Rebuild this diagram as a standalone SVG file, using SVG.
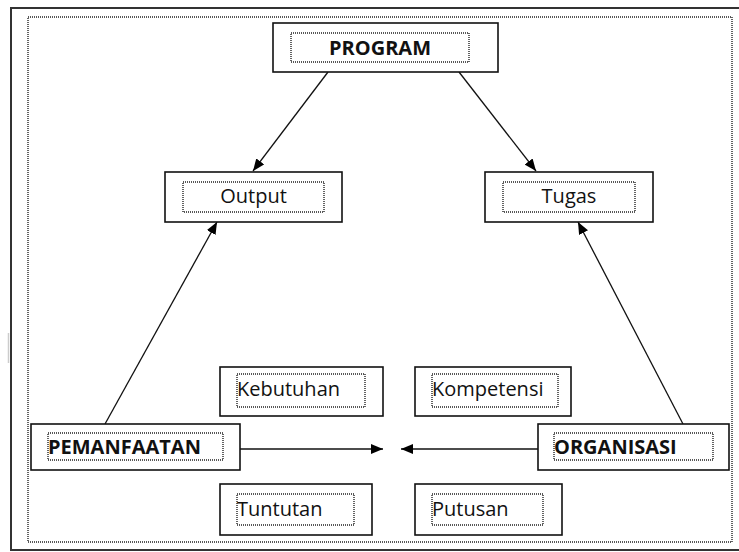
<svg xmlns="http://www.w3.org/2000/svg" width="739" height="552" viewBox="0 0 739 552">
<defs>
<style>
.frame{fill:none;stroke:#333;stroke-width:2}
.dot{fill:none;stroke:#222;stroke-width:1.4;stroke-dasharray:1 1}
.box{fill:#fff;stroke:#111;stroke-width:1.6}
.t{font-family:"Open Sans","Noto Sans","Liberation Sans",sans-serif;font-size:20px;fill:#111}
.b{font-weight:bold}
.c{text-anchor:middle}
.con{stroke:#111;stroke-width:1.3;fill:none}
</style>
<marker id="ah" viewBox="0 0 12 10" refX="12" refY="5" markerWidth="12" markerHeight="10" markerUnits="userSpaceOnUse" orient="auto">
<path d="M0,0 L12,5 L0,10 z" fill="#000"/>
</marker>
</defs>
<rect width="739" height="552" fill="#fff"/>
<rect class="frame" x="11" y="8" width="740" height="542"/>
<line x1="8.5" y1="333" x2="8.5" y2="363" stroke="#ccc" stroke-width="1.5"/>
<rect class="dot" x="28" y="17" width="704" height="525"/>
<g id="connectors">
<line class="con" x1="328" y1="72" x2="253" y2="171" marker-end="url(#ah)"/>
<line class="con" x1="459" y1="72" x2="536" y2="171" marker-end="url(#ah)"/>
<line class="con" x1="105" y1="424" x2="217" y2="222" marker-end="url(#ah)"/>
<line class="con" x1="683" y1="424" x2="578" y2="222" marker-end="url(#ah)"/>
<line class="con" x1="240" y1="449" x2="383" y2="449" marker-end="url(#ah)"/>
<line class="con" x1="538" y1="449" x2="401" y2="449" marker-end="url(#ah)"/>
</g>
<g id="program">
<rect class="box" x="273" y="23" width="225" height="49"/>
<rect class="dot" x="291" y="33" width="178" height="29"/>
<text class="t b c" x="380" y="55">PROGRAM</text>
</g>
<g id="output">
<rect class="box" x="165" y="172" width="177" height="50"/>
<rect class="dot" x="183" y="182" width="141" height="30"/>
<text class="t c" x="253.5" y="203">Output</text>
</g>
<g id="tugas">
<rect class="box" x="485" y="172" width="168" height="50"/>
<rect class="dot" x="503" y="182" width="132" height="30"/>
<text class="t c" x="569" y="203">Tugas</text>
</g>
<g id="kebutuhan">
<rect class="box" x="220" y="367" width="163" height="49"/>
<rect class="dot" x="237" y="374" width="128" height="33"/>
<text class="t" x="237" y="396">Kebutuhan</text>
</g>
<g id="kompetensi">
<rect class="box" x="415" y="367" width="156" height="49"/>
<rect class="dot" x="432" y="374" width="126" height="33"/>
<text class="t" x="432" y="396">Kompetensi</text>
</g>
<g id="pemanfaatan">
<rect class="box" x="31" y="424" width="209" height="46"/>
<rect class="dot" x="48" y="433" width="175" height="27"/>
<text class="t b" x="48" y="454">PEMANFAATAN</text>
</g>
<g id="organisasi">
<rect class="box" x="538" y="424" width="191" height="46"/>
<rect class="dot" x="554" y="433" width="159" height="27"/>
<text class="t b" x="554" y="454">ORGANISASI</text>
</g>
<g id="tuntutan">
<rect class="box" x="220" y="484" width="152" height="51"/>
<rect class="dot" x="237" y="494" width="117" height="31"/>
<text class="t" x="237" y="516">Tuntutan</text>
</g>
<g id="putusan">
<rect class="box" x="415" y="484" width="147" height="51"/>
<rect class="dot" x="432" y="494" width="111" height="31"/>
<text class="t" x="432" y="516">Putusan</text>
</g>
</svg>
